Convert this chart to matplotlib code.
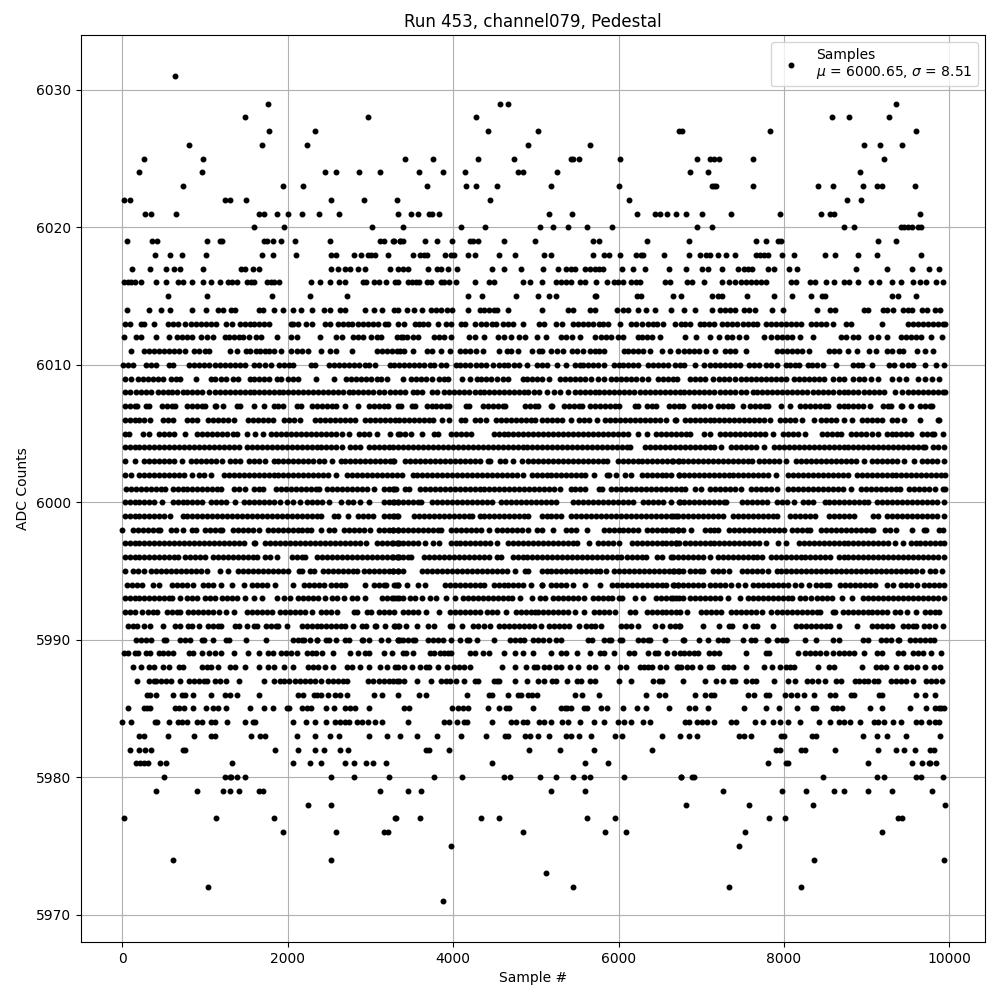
import matplotlib
matplotlib.use("Agg")
import matplotlib.pyplot as plt

# sample numbers per ADC level
r6031 = [640]
r6029 = [1760, 4570, 4670, 9360]
r6028 = [1490, 2970, 4280, 8580, 8790, 9270]
r6027 = [1780, 2330, 4420, 5030, 6730, 6770, 7830, 9600]
r6026 = [810, 1690, 2240, 4910, 5660, 8970, 9160, 9430]
r6025 = [270, 980, 3420, 3760, 4300, 4740, 5420, 5450, 5520, 6020, 6950, 7100, 7150, 7220, 7620, 9210]
r6024 = [210, 960, 2450, 2580, 2860, 3120, 3590, 3880, 4150, 4790, 4840, 5260, 6860, 7080, 8920]
r6023 = [730, 1940, 2190, 3690, 4160, 4280, 4530, 5190, 6010, 7130, 7150, 7180, 7620, 8410, 8590, 8950, 9120, 9180, 9580]
r6022 = [20, 90, 1240, 1300, 1500, 2520, 2920, 3320, 4450, 6130, 8760, 8930]
r6021 = [280, 350, 650, 1650, 1720, 1870, 2010, 2170, 2380, 2620, 3340, 3490, 3580, 3710, 3750, 3830, 5160, 5440, 6220, 6440,
         6500, 6590, 6700, 6820, 7010, 7360, 7950, 8450, 8560, 8610, 9640]
r6020 = [1590, 1960, 3020, 3390, 4100, 4390, 5050, 5210, 5390, 5620, 5920, 6950, 7130, 8730, 8850, 9410, 9450, 9500, 9550, 9620, 9660]
r6019 = [60, 360, 420, 1020, 1180, 1210, 1720, 1750, 1820, 1920, 2090, 2510, 3120, 3160, 3290, 3360, 3270, 3360, 3390, 3660, 3810,
         3990, 4210, 4240, 4300, 4610, 4990, 5690, 5760, 6340, 6850, 7660, 7780, 7930, 7960, 9140, 9350]
r6018 = [400, 580, 720, 1010, 1690, 1820, 2100, 2520, 2580, 2800, 2890, 2970, 3010, 3060, 3210, 3520, 3600, 3650, 3690, 3900, 3980,
         4010, 4180, 4260, 4560, 4750, 5100, 5180, 5690, 5830, 5880, 6020, 6210, 6270, 6300, 6550, 6850, 6980, 7060, 7100, 7200,
         7300, 7410, 7660, 7710, 7760, 7810, 7980, 8120, 8500, 8620, 8890, 9130, 9660]
r6017 = [120, 340, 530, 630, 700, 980, 1440, 1480, 1580, 1660, 2530, 2610, 2690, 2750, 2850, 2930, 3240, 3330, 3390, 3460, 3700,
         3810, 3860, 3940, 4050, 4470, 4610, 4820, 5090, 5270, 5360, 5420, 5470, 5590, 5650, 5710, 5760, 5810, 6040, 6170, 6320,
         6610, 6810, 7010, 7080, 7250, 7440, 7520, 7560, 7610, 7810, 7880, 8060, 8160, 8870, 9250, 9550, 9750, 9870]
r6016 = [20, 70, 110, 160, 230, 410, 530, 680, 740, 850, 980, 1070, 1180, 1280, 1330, 1390, 1510, 1560, 1600, 1750, 1800, 1840, 1900,
         2280, 2390, 2510, 2620, 2700, 2910, 2950, 3040, 3100, 3190, 3300, 3340, 3450, 3500, 3550, 3590, 3680, 3730, 3850, 3890,
         3950, 4030, 4270, 4440, 4500, 4850, 4930, 5080, 5250, 5310, 5370, 5420, 5530, 5600, 5730, 5860, 5940, 5990, 6050, 6150,
         6210, 6260, 6560, 6620, 6830, 6890, 7030, 7250, 7330, 7410, 7480, 7540, 7600, 7660, 7720, 7780, 8080, 8140, 8320, 8380,
         8510, 8610, 8730, 8790, 8890, 9050, 9150, 9310, 9410, 9560, 9640, 9720, 9840, 9920]
r6015 = [550, 1030, 1810, 2270, 2720, 4180, 4350, 4760, 5030, 5160, 5250, 5710, 5730, 6220, 6270, 6660, 6750, 7130, 7200, 7250, 7550,
         7880, 8100, 8330, 8460, 8500, 9300, 9380, 9600]
r6014 = [60, 330, 470, 580, 840, 1010, 1160, 1220, 1320, 1370, 1650, 1700, 1840, 1950, 2070, 2160, 2300, 2440, 2510, 2630, 2700, 2930,
         3040, 3140, 3290, 3340, 3440, 3530, 3630, 3730, 3790, 3850, 3930, 3990, 4180, 4330, 4380, 4440, 4500, 4530, 4670, 5080,
         5390, 5450, 5660, 5720, 5980, 6050, 6110, 6240, 6330, 6440, 6630, 6790, 6920, 7130, 7230, 7290, 7350, 7410, 7520, 7580,
         7650, 7860, 7990, 8400, 8560, 8620, 8970, 9020, 9200, 9250, 9320, 9440, 9500, 9550, 9670, 9730, 9830, 9890]
r6013 = [40, 100, 230, 270, 380, 560, 620, 680, 760, 830, 890, 950, 1010, 1080, 1140, 1260, 1330, 1420, 1480, 1540, 1600, 1660, 1710,
         1770, 2040, 2070, 2120, 2220, 2290, 2450, 2510, 2610, 2670, 2730, 2780, 2850, 2910, 2970, 3030, 3090, 3180, 3210, 3330,
         3410, 3540, 3590, 3640, 3700, 3820, 3910, 3970, 4100, 4150, 4260, 4340, 4400, 4470, 4520, 4600, 4670, 4730, 4840, 5040,
         5100, 5240, 5320, 5450, 5510, 5570, 5630, 5690, 5760, 5810, 5870, 6020, 6150, 6210, 6280, 6360, 6420, 6470, 6540, 6680,
         6750, 6800, 6860, 6980, 7030, 7090, 7150, 7250, 7310, 7370, 7430, 7500, 7560, 7620, 7670, 7780, 7840, 7900, 7960, 8020,
         8080, 8140, 8210, 8330, 8390, 8450, 8510, 8590, 8750, 8810, 9180, 9500, 9560, 9620, 9680, 9740, 9800, 9860, 9920, 9950]
r6012 = [20, 170, 230, 410, 570, 660, 720, 780, 840, 950, 1030, 1100, 1240, 1290, 1350, 1410, 1460, 1530, 1620, 1680, 1870, 2040, 2110,
         2390, 2590, 2660, 2790, 2850, 2910, 3010, 3080, 3130, 3320, 3370, 3390, 3440, 3510, 3580, 3770, 3830, 3890, 3970, 4190,
         4260, 4380, 4540, 4610, 4700, 4800, 4870, 5010, 5120, 5310, 5370, 5440, 5540, 5720, 5790, 5850, 5910, 5990, 6060, 6230,
         6280, 6340, 6400, 6500, 6800, 6940, 7110, 7210, 7310, 7370, 7460, 7540, 7760, 7840, 7920, 7980, 8040, 8100, 8190, 8350,
         8690, 8750, 8830, 8890, 9050, 9140, 9240, 9410, 9480, 9540, 9600, 9660, 9780, 9910]
r6011 = [110, 270, 330, 390, 450, 510, 570, 630, 690, 760, 870, 930, 1000, 1050, 1300, 1390, 1500, 1550, 1620, 1670, 1730, 1780, 1830,
         1920, 2040, 2110, 2170, 2250, 2400, 2510, 2590, 2780, 3080, 3140, 3200, 3260, 3320, 3360, 3410, 3510, 3690, 3750, 3850,
         3960, 4090, 4150, 4210, 4280, 4360, 4550, 4650, 4700, 4790, 4960, 5040, 5080, 5180, 5260, 5330, 5440, 5500, 5570, 5650,
         5710, 5770, 5830, 6070, 6120, 6180, 6240, 6300, 6380, 6520, 6620, 6720, 6790, 6850, 6910, 6970, 7060, 7170, 7290, 7350,
         7410, 7540, 7920, 7980, 8040, 8100, 8160, 8220, 8300, 8550, 8610, 8670, 8770, 8880, 9030, 9110, 9250, 9310, 9390, 9440,
         9610, 9700, 9800]
r6010 = [10, 70, 130, 290, 350, 410, 570, 620, 810, 870, 930, 990, 1050, 1120, 1180, 1240, 1300, 1360, 1420, 1480, 1600, 1660, 1730,
         1800, 1900, 1960, 2020, 2070, 2280, 2330, 2500, 2560, 2620, 2680, 2740, 2800, 2860, 2930, 2990, 3060, 3240, 3290, 3350,
         3410, 3470, 3530, 3590, 3650, 3720, 3770, 3850, 3910, 4030, 4090, 4150, 4210, 4280, 4340, 4400, 4480, 4550, 4610, 4670,
         4740, 4800, 4890, 5020, 5080, 5140, 5260, 5370, 5470, 5530, 5570, 5630, 5690, 5750, 5830, 5940, 6000, 6060, 6120, 6180,
         6240, 6360, 6420, 6480, 6540, 6600, 6680, 6740, 6790, 6930, 7030, 7110, 7170, 7230, 7290, 7350, 7410, 7470, 7580, 7640,
         7700, 7780, 7840, 7910, 8020, 8070, 8130, 8180, 8290, 8340, 8400, 8470, 8630, 8830, 8890, 8940, 9070, 9270, 9330, 9430,
         9500, 9560, 9700, 9840, 9930]
r6009 = [40, 110, 190, 250, 310, 370, 430, 490, 590, 650, 700, 890, 1070, 1120, 1200, 1260, 1340, 1400, 1540, 1600, 1660, 1720, 1770,
         1870, 1920, 2000, 2070, 2130, 2340, 2560, 2710, 2770, 2830, 2890, 2950, 3010, 3080, 3130, 3200, 3390, 3490, 3550, 3610,
         3670, 3750, 3830, 3890, 3940, 4110, 4200, 4290, 4340, 4400, 4460, 4530, 4600, 4660, 4840, 4900, 4960, 5020, 5080, 5160,
         5290, 5350, 5410, 5470, 5530, 5590, 5670, 5750, 5830, 5910, 5970, 6030, 6090, 6150, 6210, 6280, 6360, 6480, 6540, 6600,
         6660, 6710, 6860, 6920, 6980, 7050, 7140, 7210, 7270, 7330, 7410, 7480, 7540, 7600, 7660, 7720, 7780, 7840, 7900, 7960,
         8020, 8120, 8180, 8240, 8300, 8360, 8420, 8480, 8590, 8670, 8730, 8830, 8910, 8970, 9050, 9140, 9310, 9390, 9480, 9620,
         9700, 9790, 9870]
r6008 = [30, 100, 170, 230, 290, 350, 430, 490, 550, 600, 660, 730, 790, 850, 910, 970, 1050, 1120, 1180, 1240, 1300, 1360, 1420, 1480,
         1540, 1600, 1660, 1720, 1780, 1830, 1900, 1940, 2000, 2070, 2130, 2190, 2250, 2310, 2370, 2430, 2490, 2550, 2610, 2670,
         2740, 2790, 2850, 2910, 2970, 3030, 3100, 3160, 3240, 3300, 3360, 3420, 3510, 3570, 3630, 3750, 3810, 3890, 3950, 4010,
         4070, 4130, 4190, 4260, 4320, 4380, 4440, 4500, 4560, 4610, 4680, 4740, 4800, 4860, 4910, 4980, 5040, 5140, 5220, 5290,
         5390, 5470, 5530, 5590, 5650, 5710, 5770, 5830, 5890, 5950, 6010, 6070, 6130, 6190, 6260, 6320, 6380, 6440, 6500, 6560,
         6620, 6680, 6740, 6790, 6850, 6910, 6970, 7030, 7090, 7150, 7230, 7290, 7350, 7410, 7480, 7540, 7620, 7680, 7740, 7800,
         7860, 7920, 7980, 8040, 8100, 8160, 8220, 8280, 8350, 8410, 8470, 8530, 8590, 8660, 8720, 8780, 8840, 8900, 8970, 9030,
         9090, 9150, 9210, 9340, 9430, 9500, 9560, 9620, 9680, 9740, 9800, 9860, 9920, 9945]
r6007 = [30, 90, 150, 180, 290, 320, 480, 540, 600, 640, 780, 840, 900, 960, 1000, 1120, 1130, 1220, 1390, 1430, 1600, 1710, 1830, 1890,
         1950, 2110, 2160, 2300, 2360, 2420, 2480, 2540, 2580, 2690, 2850, 2980, 3040, 3100, 3160, 3210, 3340, 3370, 3500, 3540,
         3680, 3740, 3800, 3860, 3920, 3950, 4160, 4190, 4360, 4420, 4480, 4540, 4600, 4630, 4870, 4930, 4990, 5030, 5190, 5200,
         5340, 5400, 5460, 5520, 5560, 5660, 5720, 5780, 5840, 5900, 5960, 6000, 6200, 6240, 6340, 6400, 6450, 6610, 6670, 6730,
         6780, 6910, 6970, 7030, 7100, 7200, 7260, 7320, 7370, 7500, 7590, 7650, 7710, 7770, 7810, 7970, 8070, 8190, 8250, 8310,
         8370, 8430, 8490, 8530, 8660, 8720, 8780, 8840, 8900, 8960, 9040, 9200, 9260, 9290, 9420, 9430, 9530, 9640, 9700, 9760,
         9790]
r6006 = [30, 90, 150, 210, 270, 340, 490, 550, 620, 790, 850, 900, 1040, 1100, 1160, 1220, 1280, 1350, 1520, 1580, 1640, 1700, 1760,
         1820, 1960, 2020, 2080, 2150, 2330, 2390, 2450, 2510, 2570, 2630, 2690, 2750, 2810, 2940, 3000, 3060, 3120, 3180, 3240,
         3300, 3350, 3410, 3470, 3530, 3590, 3650, 3710, 3760, 3870, 3950, 4100, 4150, 4260, 4320, 4400, 4520, 4580, 4640, 4700,
         4760, 4820, 4880, 4940, 4990, 5080, 5140, 5200, 5260, 5320, 5420, 5520, 5580, 5640, 5740, 5840, 5900, 5960, 6020, 6080,
         6140, 6200, 6260, 6320, 6380, 6440, 6500, 6570, 6690, 6680, 6800, 6860, 6920, 6980, 7040, 7100, 7160, 7220, 7280, 7340,
         7400, 7460, 7520, 7580, 7640, 7700, 7760, 7830, 7950, 8010, 8070, 8130, 8220, 8360, 8450, 8510, 8570, 8630, 8720, 8820,
         8940, 9000, 9060, 9120, 9180, 9310, 9370, 9450, 9640, 9860, 9880]
r6005 = [30, 80, 250, 330, 450, 510, 570, 630, 760, 910, 970, 1030, 1090, 1150, 1210, 1270, 1340, 1390, 1510, 1610, 1700, 1800, 1860, 1920,
         1980, 2040, 2100, 2160, 2220, 2280, 2340, 2400, 2460, 2520, 2580, 2660, 2740, 2860, 2920, 2980, 3080, 3240, 3340, 3360,
         3420, 3490, 3630, 3770, 3820, 3980, 4040, 4100, 4160, 4220, 4490, 4550, 4610, 4670, 4730, 4790, 4850, 4910, 4970, 5030,
         5090, 5150, 5210, 5270, 5330, 5390, 5450, 5510, 5570, 5630, 5690, 5750, 5810, 5870, 5930, 5990, 6050, 6120, 6230, 6350,
         6450, 6510, 6570, 6630, 6690, 6750, 6810, 6870, 7030, 7110, 7230, 7290, 7350, 7410, 7470, 7530, 7590, 7650, 7710, 7770,
         7870, 7990, 8050, 8110, 8170, 8260, 8460, 8520, 8580, 8640, 8690, 8810, 8870, 8930, 8990, 9060, 9140, 9240, 9300, 9360,
         9420, 9480, 9540, 9670, 9730, 9790, 9810, 9920]
r6004 = [30, 90, 150, 210, 270, 330, 390, 450, 510, 570, 630, 690, 750, 810, 870, 930, 990, 1050, 1110, 1170, 1230, 1290, 1350, 1410,
         1510, 1570, 1630, 1690, 1750, 1810, 1870, 1930, 1990, 2050, 2110, 2170, 2230, 2290, 2350, 2410, 2470, 2530, 2590, 2660,
         2760, 2820, 2880, 2980, 3040, 3100, 3160, 3220, 3280, 3340, 3400, 3460, 3520, 3580, 3640, 3700, 3760, 3820, 3880, 3940,
         4000, 4060, 4120, 4180, 4240, 4300, 4360, 4420, 4480, 4540, 4600, 4660, 4720, 4780, 4840, 4900, 4960, 5020, 5080, 5140,
         5200, 5260, 5320, 5380, 5440, 5500, 5560, 5620, 5680, 5740, 5800, 5860, 5920, 5980, 6040, 6100, 6145, 6320, 6380, 6440,
         6500, 6560, 6620, 6680, 6740, 6800, 6860, 6920, 6980, 7040, 7100, 7160, 7240, 7360, 7420, 7480, 7540, 7600, 7660, 7760,
         7880, 7940, 8000, 8060, 8120, 8180, 8240, 8300, 8360, 8420, 8480, 8540, 8600, 8660, 8720, 8780, 8840, 8900, 8960, 9020,
         9080, 9140, 9200, 9260, 9320, 9380, 9440, 9500, 9560, 9620, 9680, 9705, 9800, 9860, 9940]
r6003 = [30, 150, 270, 330, 390, 450, 510, 570, 630, 720, 830, 890, 950, 1010, 1070, 1130, 1204, 1310, 1370, 1430, 1530, 1590, 1650, 1730,
         1830, 1890, 1950, 2010, 2070, 2130, 2190, 2250, 2310, 2380, 2436, 2541, 2640, 2700, 2760, 2820, 2880, 2940, 3000, 3060,
         3120, 3180, 3240, 3290, 3280, 3420, 3480, 3540, 3600, 3660, 3720, 3780, 3840, 3900, 3960, 4020, 4080, 4140, 4200, 4260,
         4330, 4420, 4450, 4570, 4630, 4730, 4828, 4910, 4970, 5030, 5090, 5150, 5210, 5270, 5330, 5390, 5450, 5510, 5570, 5630,
         5690, 5750, 5810, 5860, 5990, 6050, 6110, 6170, 6230, 6290, 6350, 6410, 6470, 6530, 6590, 6650, 6730, 6660, 6720, 6780,
         6840, 6900, 6960, 7020, 7080, 7140, 7200, 7260, 7320, 7380, 7440, 7500, 7560, 7610, 7700, 7760, 7820, 7880, 7940, 8030,
         8150, 8210, 8270, 8330, 8390, 8450, 8510, 8570, 8630, 8690, 8750, 8810, 8870, 8970, 9070, 9130, 9190, 9250, 9310, 9370,
         9445, 9568, 9670, 9730, 9790, 9850, 9930]
r6002 = [40, 110, 210, 270, 330, 390, 450, 510, 570, 630, 690, 750, 840, 930, 990, 1080, 1230, 1290, 1350, 1410, 1470, 1530, 1590, 1650,
         1710, 1770, 1830, 1890, 1950, 2010, 2070, 2130, 2190, 2250, 2310, 2370, 2430, 2490, 2580, 2720, 2780, 2840, 2900, 2960,
         3020, 3080, 3140, 3200, 3260, 3320, 3380, 3510, 3570, 3630, 3690, 3750, 3810, 3870, 3930, 3990, 4050, 4110, 4170, 4230,
         4290, 4350, 4410, 4470, 4530, 4590, 4650, 4710, 4770, 4850, 4950, 5010, 5070, 5130, 5190, 5250, 5310, 5370, 5430, 5490,
         5550, 5600, 5709, 5860, 5880, 5972, 6080, 6150, 6290, 6350, 6410, 6470, 6530, 6570, 6638, 6727, 6730, 6790, 6850, 6910,
         6970, 7030, 7090, 7150, 7210, 7270, 7330, 7390, 7450, 7510, 7570, 7630, 7690, 7750, 7810, 7900, 8050, 8110, 8170, 8230,
         8290, 8350, 8410, 8470, 8530, 8590, 8650, 8710, 8780, 8880, 8940, 9000, 9060, 9120, 9180, 9240, 9300, 9360, 9420, 9480,
         9540, 9600, 9660, 9720, 9780, 9840, 9900, 9945]
r6001 = [50, 110, 170, 230, 290, 350, 410, 470, 520, 610, 670, 730, 790, 850, 910, 970, 1030, 1090, 1150, 1190, 1350, 1410, 1490, 1590,
         1650, 1700, 1860, 1920, 1980, 2040, 2100, 2160, 2220, 2280, 2340, 2380, 2480, 2540, 2600, 2660, 2720, 2780, 2840, 2900,
         2960, 3040, 3160, 3220, 3280, 3310, 3290, 3420, 3470, 3600, 3660, 3720, 3780, 3840, 3900, 3960, 4020, 4080, 4140, 4200,
         4260, 4320, 4380, 4440, 4500, 4560, 4620, 4680, 4740, 4800, 4860, 4920, 4980, 5040, 5100, 5160, 5220, 5290, 5420, 5480,
         5540, 5600, 5770, 5800, 5910, 5970, 6030, 6090, 6150, 6210, 6270, 6330, 6390, 6450, 6510, 6570, 6630, 6690, 6750, 6800,
         6920, 7000, 7110, 7170, 7230, 7290, 7350, 7410, 7480, 7600, 7660, 7720, 7780, 7840, 7910, 8050, 8110, 8170, 8230, 8290,
         8350, 8410, 8470, 8530, 8590, 8650, 8710, 8810, 8930, 8990, 9050, 9110, 9170, 9230, 9290, 9350, 9400, 9510, 9570, 9630,
         9690, 9750, 9826, 9920, 9945]
r6000 = [30, 90, 150, 210, 270, 330, 390, 480, 610, 670, 730, 790, 850, 910, 960, 1080, 1140, 1200, 1250, 1366, 1470, 1530, 1590, 1650, 1710,
         1770, 1830, 1911, 1990, 2070, 2153, 2240, 2300, 2360, 2420, 2500, 2642, 2730, 2790, 2880, 2986, 3170, 3230, 3290, 3340,
         3280, 3340, 3400, 3460, 3520, 3580, 3610, 3750, 3810, 3870, 3930, 3990, 4050, 4110, 4170, 4230, 4290, 4350, 4410, 4470,
         4580, 4640, 4700, 4760, 4820, 4880, 4940, 5000, 5060, 5120, 5180, 5250, 5450, 5510, 5570, 5630, 5690, 5750, 5810, 5870,
         5930, 5990, 6050, 6110, 6180, 6300, 6360, 6420, 6480, 6540, 6640, 6739, 6730, 6790, 6850, 6910, 6970, 7030, 7090, 7150,
         7210, 7270, 7300, 7490, 7550, 7610, 7670, 7730, 7800, 7920, 7980, 8040, 8125, 8230, 8290, 8350, 8490, 8550, 8610, 8670,
         8730, 8790, 8850, 8910, 8970, 9020, 9130, 9190, 9250, 9310, 9370, 9430, 9490, 9550, 9610, 9670, 9730, 9790, 9850, 9930]
r5999 = [30, 90, 150, 210, 270, 330, 390, 450, 510, 580, 730, 790, 850, 910, 970, 1030, 1090, 1150, 1210, 1270, 1330, 1390, 1450, 1510,
         1570, 1630, 1690, 1750, 1810, 1870, 1930, 1990, 2050, 2110, 2170, 2230, 2290, 2350, 2400, 2560, 2610, 2731, 2850, 2910,
         2970, 3030, 3170, 3230, 3290, 3340, 3280, 3320, 3530, 3590, 3650, 3710, 3770, 3830, 3890, 3950, 4010, 4070, 4130, 4190,
         4230, 4320, 4380, 4440, 4500, 4560, 4620, 4680, 4740, 4800, 4860, 4910, 5070, 5130, 5190, 5250, 5300, 5430, 5490, 5550,
         5610, 5670, 5730, 5790, 5850, 5910, 5970, 6030, 6090, 6150, 6210, 6270, 6330, 6390, 6450, 6510, 6570, 6630, 6690, 6660,
         6720, 6780, 6840, 6900, 6960, 7020, 7080, 7140, 7200, 7260, 7390, 7450, 7510, 7570, 7630, 7690, 7750, 7810, 7870, 7920,
         8070, 8130, 8190, 8250, 8310, 8380, 8550, 8610, 8670, 8730, 8790, 8850, 9080, 9140, 9250, 9310, 9370, 9430, 9490, 9550,
         9610, 9670, 9730, 9790, 9850, 9930]
r5998 = [4, 130, 190, 250, 310, 370, 430, 460, 590, 650, 730, 850, 890, 1000, 1060, 1120, 1180, 1210, 1340, 1400, 1460, 1520, 1580, 1650, 1760,
         1820, 1880, 1940, 2000, 2060, 2120, 2180, 2240, 2280, 2400, 2497, 2561, 2680, 2740, 2800, 2860, 2920, 3000, 3100, 3160,
         3220, 3280, 3340, 3280, 3340, 3400, 3460, 3520, 3580, 3640, 3700, 3760, 3820, 3860, 3980, 4040, 4100, 4160, 4220, 4280,
         4340, 4430, 4530, 4590, 4650, 4710, 4770, 4830, 4910, 5010, 5080, 5212, 5370, 5430, 5490, 5620, 5820, 5880, 5940, 6000,
         6060, 6120, 6180, 6230, 6340, 6400, 6460, 6520, 6580, 6640, 6720, 6660, 6720, 6780, 6880, 7040, 7100, 7160, 7200, 7340,
         7400, 7460, 7520, 7580, 7640, 7700, 7760, 7820, 7880, 7940, 8000, 8100, 8160, 8220, 8280, 8310, 8450, 8510, 8570, 8630,
         8690, 8750, 8810, 8870, 8930, 8990, 9050, 9080, 9220, 9280, 9360, 9543, 9690, 9720, 9870, 9920]
r5997 = [30, 90, 150, 210, 270, 330, 390, 450, 510, 570, 630, 690, 750, 810, 870, 930, 990, 1050, 1110, 1170, 1230, 1290, 1350, 1410, 1470,
         1590, 1610, 1730, 1790, 1850, 1910, 1970, 2030, 2090, 2150, 2210, 2270, 2330, 2390, 2450, 2510, 2570, 2630, 2690, 2750,
         2810, 2870, 2950, 3080, 3140, 3200, 3260, 3320, 3350, 3280, 3340, 3400, 3460, 3520, 3580, 3660, 3760, 3830, 3970, 4030,
         4090, 4150, 4210, 4270, 4330, 4390, 4450, 4530, 4670, 4730, 4790, 4850, 4910, 4970, 5030, 5090, 5150, 5210, 5270, 5330,
         5390, 5450, 5500, 5640, 5750, 5810, 5870, 5930, 6000, 6160, 6220, 6280, 6340, 6400, 6460, 6520, 6580, 6640, 6700, 6730,
         6700, 6800, 6860, 6920, 6980, 7040, 7100, 7160, 7220, 7280, 7340, 7400, 7460, 7520, 7580, 7640, 7700, 7786, 7930, 8030,
         8180, 8240, 8300, 8360, 8420, 8480, 8540, 8600, 8660, 8720, 8780, 8840, 8900, 8960, 9020, 9080, 9140, 9200, 9260, 9340,
         9434, 9530, 9590, 9650, 9710, 9770, 9830, 9890, 9930]
r5996 = [30, 90, 150, 210, 270, 330, 390, 450, 510, 570, 630, 680, 760, 820, 880, 940, 1000, 1100, 1160, 1220, 1280, 1340, 1400, 1460, 1520, 1580,
         1630, 1730, 1790, 1870, 2050, 2110, 2170, 2210, 2360, 2420, 2480, 2540, 2600, 2660, 2720, 2780, 2840, 2900, 2960, 3020,
         3080, 3140, 3200, 3260, 3320, 3350, 3280, 3340, 3400, 3460, 3490, 3650, 3710, 3770, 3830, 3890, 3950, 4010, 4070, 4130,
         4190, 4250, 4310, 4370, 4430, 4530, 4578, 4720, 4780, 4840, 4900, 4960, 5020, 5080, 5140, 5200, 5260, 5320, 5380, 5440,
         5500, 5560, 5620, 5680, 5740, 5800, 5860, 5920, 5980, 6030, 6100, 6160, 6220, 6280, 6330, 6470, 6530, 6630, 6660, 6720,
         6780, 6840, 6900, 6960, 7020, 7100, 7200, 7260, 7320, 7380, 7440, 7500, 7560, 7620, 7680, 7730, 7840, 7900, 7960, 8020,
         8080, 8140, 8200, 8260, 8320, 8380, 8440, 8500, 8560, 8660, 8720, 8780, 8840, 8900, 8960, 9020, 9080, 9140, 9200, 9260,
         9320, 9380, 9440, 9500, 9560, 9620, 9680, 9740, 9800, 9860, 9930]
r5995 = [40, 130, 190, 260, 350, 410, 470, 530, 590, 650, 710, 770, 830, 890, 950, 1020, 1180, 1280, 1400, 1460, 1520, 1580, 1640, 1700, 1760,
         1820, 1880, 1940, 2010, 2140, 2170, 2270, 2320, 2430, 2490, 2550, 2610, 2670, 2730, 2790, 2840, 2920, 2980, 3040, 3100,
         3160, 3220, 3280, 3340, 3280, 3340, 3400, 3630, 3690, 3750, 3810, 3870, 3930, 3990, 4050, 4110, 4170, 4230, 4290, 4350,
         4410, 4470, 4530, 4590, 4650, 4750, 4870, 4910, 5070, 5130, 5190, 5250, 5310, 5370, 5430, 5490, 5550, 5610, 5670, 5730,
         5780, 5850, 5950, 6010, 6070, 6130, 6190, 6250, 6310, 6370, 6430, 6490, 6550, 6610, 6670, 6730, 6660, 6720, 6780, 6860,
         6920, 6980, 7020, 7140, 7200, 7260, 7340, 7490, 7550, 7610, 7670, 7730, 7806, 7910, 7970, 8030, 8090, 8150, 8210, 8270,
         8330, 8390, 8450, 8510, 8570, 8630, 8690, 8750, 8810, 8870, 8930, 8990, 9050, 9110, 9170, 9230, 9290, 9350, 9410, 9470,
         9530, 9590, 9670, 9770, 9830, 9910]
r5994 = [60, 120, 180, 240, 370, 440, 600, 660, 720, 780, 860, 980, 1040, 1100, 1200, 1329, 1470, 1570, 1630, 1690, 1750, 1850, 2064, 2200, 2260,
         2320, 2380, 2440, 2530, 2590, 2650, 2690, 2933, 3040, 3100, 3160, 3190, 3310, 3340, 3290, 3340, 3438, 3580, 3660, 3900,
         3960, 4020, 4080, 4140, 4200, 4260, 4320, 4370, 4490, 4550, 4610, 4670, 4730, 4790, 4850, 4940, 5070, 5080, 5190, 5250,
         5310, 5370, 5450, 5596, 5782, 5920, 5980, 6040, 6100, 6160, 6220, 6280, 6340, 6400, 6460, 6520, 6570, 6670, 6720, 6660,
         6720, 6780, 6840, 6900, 6960, 7020, 7110, 7170, 7230, 7290, 7360, 7450, 7530, 7630, 7690, 7750, 7810, 7870, 7930, 7990,
         8050, 8130, 8210, 8300, 8390, 8450, 8510, 8550, 8680, 8740, 8800, 8860, 8920, 8980, 9040, 9100, 9240, 9320, 9420, 9480,
         9540, 9610, 9690, 9750, 9810, 9870, 9930]
r5993 = [30, 90, 150, 210, 270, 330, 390, 450, 510, 570, 600, 703, 790, 850, 900, 1000, 1060, 1120, 1210, 1270, 1330, 1390, 1490, 1600, 1690, 1875,
         1960, 2030, 2130, 2190, 2250, 2310, 2370, 2450, 2540, 2600, 2680, 2780, 2840, 2940, 3140, 3200, 3260, 3320, 3350, 3290,
         3390, 3480, 3540, 3620, 3720, 3800, 3920, 4020, 4120, 4180, 4240, 4300, 4360, 4420, 4480, 4540, 4600, 4660, 4710, 4810,
         4950, 5050, 5110, 5210, 5270, 5330, 5390, 5450, 5510, 5580, 5690, 5750, 5810, 5870, 5920, 6000, 6040, 6200, 6300, 6450,
         6510, 6570, 6630, 6690, 6730, 6660, 6780, 6870, 6930, 6990, 7050, 7110, 7170, 7230, 7320, 7463, 7570, 7630, 7690, 7750,
         7810, 7870, 7930, 7990, 8050, 8100, 8190, 8250, 8330, 8400, 8460, 8520, 8580, 8700, 8820, 8960, 9020, 9080, 9140, 9200,
         9260, 9320, 9380, 9440, 9500, 9560, 9620, 9680, 9740, 9800, 9860, 9930]
r5992 = [30, 90, 150, 240, 310, 370, 420, 540, 600, 660, 700, 800, 860, 920, 980, 1040, 1100, 1170, 1253, 1354, 1510, 1570, 1630, 1690, 1750, 1810,
         1910, 1970, 2030, 2090, 2150, 2210, 2300, 2400, 2460, 2520, 2600, 2800, 2840, 2960, 3010, 3110, 3170, 3230, 3290, 3390,
         3460, 3520, 3580, 3670, 3830, 3960, 4020, 4080, 4140, 4200, 4260, 4320, 4410, 4470, 4530, 4640, 4760, 4820, 4880, 4940,
         4990, 5030, 5090, 5150, 5210, 5270, 5330, 5390, 5480, 5588, 5700, 5760, 5820, 5880, 5960, 6140, 6200, 6340, 6400, 6460,
         6520, 6580, 6640, 6700, 6740, 6830, 7000, 7060, 7120, 7180, 7240, 7360, 7420, 7480, 7540, 7600, 7660, 7740, 7846, 7920,
         7980, 8040, 8100, 8160, 8220, 8280, 8340, 8400, 8440, 8590, 8620, 8710, 8770, 8830, 8890, 8950, 9010, 9070, 9130, 9190,
         9250, 9340, 9400, 9490, 9596, 9700, 9760, 9820, 9880]
r5991 = [70, 130, 180, 270, 340, 497, 640, 700, 800, 850, 933, 1040, 1100, 1160, 1190, 1360, 1410, 1511, 1590, 1630, 1740, 1800, 1860, 1880, 1992,
         2170, 2230, 2290, 2350, 2410, 2470, 2530, 2590, 2650, 2700, 2788, 2900, 2950, 3060, 3070, 3176, 3300, 3340, 3290, 3350,
         3430, 3568, 3700, 3770, 3960, 3990, 4113, 4240, 4300, 4370, 4448, 4560, 4620, 4680, 4740, 4800, 4860, 4920, 4980, 5060,
         5160, 5220, 5280, 5340, 5406, 5527, 5610, 5670, 5720, 5794, 6030, 6090, 6150, 6230, 6440, 6521, 6618, 6730, 6680, 6740,
         7022, 7210, 7340, 7370, 7527, 7620, 7680, 7867, 8150, 8210, 8270, 8330, 8390, 8450, 8510, 8560, 8667, 8885, 9060, 9120,
         9180, 9240, 9310, 9440, 9500, 9560, 9590, 9690, 9750, 9830, 9919]
r5990 = [170, 230, 290, 350, 510, 530, 700, 760, 820, 960, 990, 1095, 1260, 1290, 1503, 1745, 2060, 2120, 2180, 2200, 2266, 2350, 2360, 2470, 2500,
         2582, 2691, 2739, 2900, 2910, 2982, 3127, 3212, 3340, 3360, 3330, 3390, 3450, 3510, 3540, 3700, 3760, 3820, 3880, 3980,
         4085, 4170, 4190, 4291, 4500, 4690, 4750, 4810, 4860, 4970, 5030, 5090, 5160, 5250, 5310, 5630, 5680, 5820, 5880, 5910,
         6020, 6040, 6240, 6300, 6360, 6375, 6557, 6790, 6780, 6970, 7079, 7200, 7260, 7310, 7503, 7600, 7650, 7800, 7810, 7920,
         7980, 8020, 8255, 8392, 8590, 8660, 8950, 9020, 9170, 9230, 9290, 9380, 9390, 9520, 9580, 9640, 9700, 9760, 9810]
r5989 = [20, 70, 150, 190, 290, 340, 440, 490, 560, 610, 810, 860, 970, 1050, 1120, 1200, 1350, 1520, 1660, 1760, 1820, 1920, 1980, 2040, 2110,
         2230, 2290, 2340, 2420, 2550, 2760, 2850, 2930, 2990, 3160, 3260, 3390, 3430, 3520, 3720, 3770, 3840, 3890, 3940, 3970,
         4200, 4260, 4360, 4440, 4610, 4750, 4840, 4970, 5190, 5300, 5370, 5500, 5650, 5780, 5830, 5940, 6130, 6190, 6360, 6440,
         6480, 6590, 6670, 6740, 6790, 6850, 6910, 6960, 7090, 7150, 7220, 7540, 7780, 7820, 8170, 8260, 8320, 8380, 8440, 8510,
         8590, 8670, 8730, 8790, 8850, 8970, 9120, 9180, 9380, 9440, 9560, 9620, 9680, 9780, 9900]
r5988 = [130, 230, 320, 390, 490, 570, 690, 730, 960, 1030, 1080, 1160, 1310, 1370, 1480, 1650, 1760, 1840, 1960, 2060, 2250, 2310, 2370, 2450,
         2550, 2720, 2780, 2880, 2980, 3120, 3200, 3300, 3340, 3410, 3500, 3600, 3670, 3710, 3820, 3930, 4010, 4070, 4130, 4210,
         4590, 4750, 4880, 4980, 5020, 5100, 5160, 5250, 5300, 5410, 5510, 5640, 5710, 5860, 6020, 6090, 6260, 6310, 6360, 6410,
         6500, 6570, 6720, 6710, 6750, 6830, 6890, 6990, 7090, 7130, 7270, 7320, 7380, 7540, 7760, 7860, 7950, 8020, 8070, 8120,
         8410, 8550, 8610, 8940, 9110, 9170, 9230, 9360, 9470, 9530, 9610, 9700, 9810, 9890]
r5987 = [180, 320, 380, 410, 470, 530, 590, 700, 810, 870, 930, 990, 1030, 1120, 1180, 1250, 1410, 1720, 1840, 1910, 1960, 2020, 2090, 2150, 2210,
         2270, 2330, 2400, 2490, 2550, 2610, 2670, 2720, 2970, 3030, 3100, 3160, 3220, 3280, 3320, 3350, 3410, 3560, 3730, 3860,
         3910, 3960, 4040, 4130, 4260, 4300, 4490, 4530, 4560, 4750, 4890, 5030, 5100, 5200, 5250, 5380, 5500, 5550, 5650, 5710,
         6010, 6150, 6420, 6490, 6520, 6780, 7040, 7180, 7260, 7370, 7410, 7540, 7610, 7660, 7880, 8050, 8130, 8280, 8340, 8410,
         8490, 8630, 8690, 8860, 8910, 8970, 9020, 9090, 9140, 9290, 9350, 9410, 9480, 9560, 9720, 9780, 9840, 9910]
r5986 = [300, 340, 410, 620, 720, 760, 860, 1080, 1240, 1310, 1390, 1660, 2130, 2190, 2320, 2360, 2410, 2490, 2570, 2630, 2720, 3040, 3140, 3330,
         3590, 3670, 4170, 4440, 4470, 4670, 4790, 4820, 4910, 4960, 5010, 5480, 5560, 5760, 6330, 6490, 6560, 6930, 7040, 7120,
         7160, 7560, 7640, 7780, 7820, 8010, 8090, 8160, 8240, 8360, 8560, 8620, 8810, 8850, 9150, 9190, 9590, 9710, 9830]
r5985 = [70, 260, 300, 340, 640, 690, 750, 860, 1010, 1100, 1160, 1260, 1550, 1710, 1820, 1990, 2020, 2180, 2230, 2280, 2470, 2560, 2700, 2750, 2820,
         2980, 3410, 3470, 3990, 4060, 4120, 4180, 4420, 4550, 4640, 4680, 4970, 5300, 5350, 5380, 5430, 5580, 5620, 5790, 5860,
         6060, 6220, 6330, 6610, 6850, 6930, 7080, 7520, 7780, 7940, 8160, 8350, 8390, 8590, 8640, 8700, 9040, 9180, 9520, 9720,
         9820, 9870, 9900, 9940]
r5984 = [0, 110, 400, 420, 570, 670, 720, 780, 900, 970, 1070, 1120, 1270, 1490, 1580, 1610, 2070, 2220, 2330, 2460, 2570, 2630, 2690, 2740, 2840,
         2900, 2970, 3060, 3140, 3460, 3890, 3950, 4050, 4130, 4170, 4470, 4700, 4760, 4840, 4900, 5040, 5100, 5190, 5320, 5390,
         5540, 5700, 5820, 5990, 6070, 6150, 6300, 6380, 6800, 6850, 6950, 7010, 7070, 7150, 7360, 7420, 7650, 7750, 7870, 7950,
         8050, 8190, 8420, 8560, 8660, 8720, 8800, 8920, 9090, 9140, 9210, 9320, 9420, 9600, 9660, 9750, 9820, 9870]
r5983 = [210, 270, 560, 870, 1070, 1120, 1560, 1670, 1730, 2110, 2330, 2510, 2620, 2990, 3200, 3360, 3560, 3810, 4100, 4400, 4630, 4660, 4870, 4930,
         5030, 5160, 5370, 5420, 5520, 5670, 5960, 6040, 6530, 6740, 6850, 6950, 7460, 7520, 7600, 7960, 8000, 8340, 8390, 8950,
         9120, 9250, 9470, 9890]
r5982 = [100, 210, 280, 350, 730, 760, 1850, 2120, 2330, 2440, 2630, 2730, 3670, 3710, 3950, 4920, 5290, 5700, 6400, 7900, 7950, 8210, 8260, 8620,
         9140, 9360, 9450, 9580, 9760, 9810]
r5981 = [170, 220, 270, 310, 460, 530, 1330, 2070, 2270, 2400, 2690, 2800, 2950, 3030, 3190, 4470, 5600, 5870, 7810, 8020, 8050, 9020, 9550, 9670,
         9750, 9770, 9840]
r5980 = [510, 1240, 1300, 1320, 1390, 1490, 2520, 2800, 3220, 3770, 4110, 4610, 4690, 5050, 5240, 5450, 5580, 5660, 6070, 6750, 6760, 6890, 6910,
         8470, 9130, 9210, 9600, 9660, 9920]
r5979 = [410, 910, 1220, 1310, 1410, 1650, 1700, 3120, 3460, 3610, 5180, 5590, 7260, 7980, 8270, 8610, 8730, 9010, 9310, 9790]
r5978 = [2250, 2520, 6820, 7580, 8350, 9950]
r5977 = [20, 1140, 1830, 3310, 3300, 3600, 4340, 4560, 5620, 5960, 7820, 8010, 9380, 9430]
r5976 = [1940, 2590, 3160, 3210, 4840, 5840, 6090, 7530, 9190]
r5975 = [3980, 7460]
r5974 = [610, 2530, 8360, 9940]
r5973 = [5120]
r5972 = [1040, 5450, 7330, 8210]
r5971 = [3880]

levels = [6031, 6029, 6028, 6027, 6026, 6025, 6024, 6023, 6022, 6021, 6020, 6019, 6018, 6017, 6016, 6015, 6014, 6013, 6012, 6011,
          6010, 6009, 6008, 6007, 6006, 6005, 6004, 6003, 6002, 6001, 6000, 5999, 5998, 5997, 5996, 5995, 5994, 5993, 5992, 5991,
          5990, 5989, 5988, 5987, 5986, 5985, 5984, 5983, 5982, 5981, 5980, 5979, 5978, 5977, 5976, 5975, 5974, 5973, 5972, 5971]
samples = [r6031, r6029, r6028, r6027, r6026, r6025, r6024, r6023, r6022, r6021, r6020, r6019, r6018, r6017, r6016, r6015, r6014,
           r6013, r6012, r6011, r6010, r6009, r6008, r6007, r6006, r6005, r6004, r6003, r6002, r6001, r6000, r5999, r5998, r5997,
           r5996, r5995, r5994, r5993, r5992, r5991, r5990, r5989, r5988, r5987, r5986, r5985, r5984, r5983, r5982, r5981, r5980,
           r5979, r5978, r5977, r5976, r5975, r5974, r5973, r5972, r5971]

x = []
y = []
for level, row in zip(levels, samples):
    x.extend(row)
    y.extend([level] * len(row))

fig, ax = plt.subplots(figsize=(10, 10))
ax.plot(x, y, 'k.', ms=6.5, label='Samples\n$\\mu$ = 6000.65, $\\sigma$ = 8.51')
ax.set_xlim(-497, 10430)
ax.set_title('Run 453, channel079, Pedestal')
ax.set_xlabel('Sample #')
ax.set_ylabel('ADC Counts')
ax.ticklabel_format(useOffset=False, axis='y')
ax.grid(True)
ax.legend(loc='upper right')
fig.subplots_adjust(left=0.081, right=0.985, top=0.965, bottom=0.058)
fig.savefig('out.png', dpi=100)
